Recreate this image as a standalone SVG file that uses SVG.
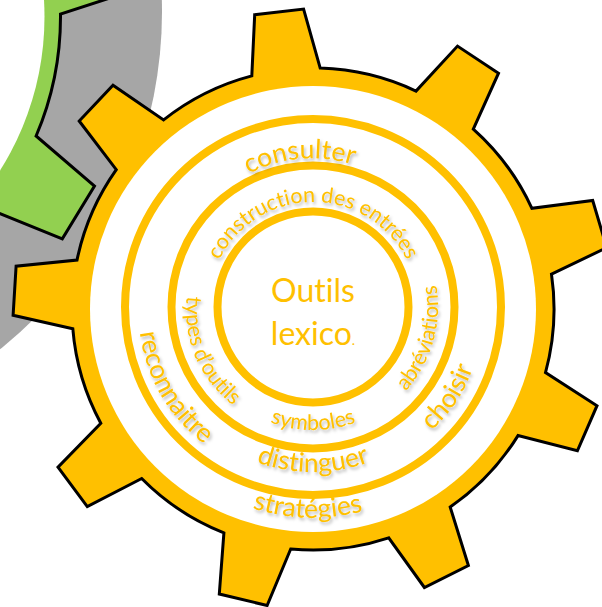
<svg xmlns="http://www.w3.org/2000/svg" width="602" height="607" viewBox="0 0 602 607">
<defs>
<style>
.gear{stroke:#000;stroke-width:3;stroke-linejoin:miter}
.ring{fill:none;stroke:#FFC000;stroke-width:8}
.lbl{font-family:Lato,"Open Sans",sans-serif;fill:#FFC000;font-variant-ligatures:none}
.big{font-size:26.5px}
.small{font-size:21.5px}
.shadow{filter:url(#sh)}
</style>
<filter id="sh" x="-20%" y="-20%" width="140%" height="140%">
<feDropShadow dx="1.5" dy="2.5" stdDeviation="1.6" flood-color="#000" flood-opacity="0.28"/>
</filter>
<path id="p-consulter" d="M326.0,455.4 A149,149 0 0 1 300.0,158.6 A149,149 0 0 1 326.0,455.4"/>
<path id="p-construction" d="M313,412 A105,105 0 0 1 313,202 A105,105 0 0 1 313,412"/>
<path id="p-reconnaitre" d="M465.4,219 A176,176 0 0 0 160.6,395 A176,176 0 0 0 465.4,219"/>
<path id="p-types" d="M430.8,257 A128,128 0 0 0 195.2,357 A128,128 0 0 0 430.8,257"/>
<path id="p-choisir" d="M169.6,212.1 A172,172 0 0 0 456.4,401.9 A172,172 0 0 0 169.6,212.1"/>
<path id="p-abrev" d="M192.8,272.5 A125,125 0 0 0 433.2,341.5 A125,125 0 0 0 192.8,272.5"/>
<path id="p-symboles" d="M313,184 A123,123 0 0 0 313,430 A123,123 0 0 0 313,184"/>
<path id="p-distinguer" d="M313,142 A165,165 0 0 0 313,472 A165,165 0 0 0 313,142"/>
<path id="p-strategies" d="M318.5,96.1 A211,211 0 0 0 307.5,517.9 A211,211 0 0 0 318.5,96.1"/>
</defs>
<rect width="602" height="607" fill="#fff"/>
<g id="gray-gear">
<circle cx="-270" cy="12" r="432" fill="#A6A6A6"/>
</g>
<g id="green-gear">
<path class="gear" fill="#92D050" d="M47.4,-71.7 L124.2,-70.9 L133.6,-9.7 L60.5,14.1 A304,304 0 0 1 36.1,136 L94.5,186 L62.3,238.9 L-8.9,210.1 L-100,300 L-300,300 L-300,-100 L47.4,-100 Z"/>
<circle cx="-243.5" cy="16.7" r="288" fill="#fff"/>
</g>
<g id="yellow-gear">
<path class="gear" fill="#FFC000" d="M251.8,75.9 L254.7,14.7 L303.6,9.1 L320.2,68.1 A241,241 0 0 1 416,91.1 L457.5,46.1 L498.5,73.2 L473.3,129.1 A241,241 0 0 1 531.9,208.3 L592.7,200.5 L606.7,247.6 L551.5,274.2 A241,241 0 0 1 545.5,372.6 L597,405.7 L577.4,450.8 L518,435.6 A241,241 0 0 1 450.2,507.1 L468.4,565.6 L424.4,587.5 L388.7,537.8 A241,241 0 0 1 290.7,549 L267.1,605.5 L219.3,594 L223.9,532.9 A241,241 0 0 1 141.7,478.5 L87.3,506.6 L58,467.1 L100.8,423.3 A241,241 0 0 1 72.8,328.7 L13.1,315.3 L16.1,266.2 L77,260.1 A241,241 0 0 1 116.3,169.7 L79.2,121 L113,85.3 L163.6,119.9 A241,241 0 0 1 251.8,75.9 Z"/>
<circle cx="313" cy="309" r="223" fill="#fff"/>
</g>
<g id="rings">
<circle class="ring" cx="313" cy="307" r="188"/>
<circle class="ring" cx="313" cy="307" r="141.5"/>
<circle class="ring" cx="313" cy="307" r="95.5"/>
</g>
<g id="labels" class="shadow">
<g id="consulter"><text class="lbl big"><textPath href="#p-consulter" startOffset="50%" text-anchor="middle">consulter</textPath></text></g>
<g id="construction"><text class="lbl small"><textPath href="#p-construction" startOffset="50%" text-anchor="middle">construction des entrées</textPath></text></g>
<g id="reconnaitre"><text class="lbl big"><textPath href="#p-reconnaitre" startOffset="50%" text-anchor="middle">reconnaitre</textPath></text></g>
<g id="types"><text class="lbl small"><textPath href="#p-types" startOffset="50%" text-anchor="middle">types d’outils</textPath></text></g>
<g id="choisir"><text class="lbl big"><textPath href="#p-choisir" startOffset="50%" text-anchor="middle">choisir</textPath></text></g>
<g id="abreviations"><text class="lbl small"><textPath href="#p-abrev" startOffset="50%" text-anchor="middle">abréviations</textPath></text></g>
<g id="symboles"><text class="lbl small"><textPath href="#p-symboles" startOffset="50%" text-anchor="middle">symboles</textPath></text></g>
<g id="distinguer"><text class="lbl big"><textPath href="#p-distinguer" startOffset="50%" text-anchor="middle">distinguer</textPath></text></g>
<g id="strategies"><text class="lbl big"><textPath href="#p-strategies" startOffset="50%" text-anchor="middle">stratégies</textPath></text></g>
</g>
<g id="center">
<text class="lbl" font-size="32" x="313" y="302" text-anchor="middle">Outils</text>
<text class="lbl" font-size="32" x="313" y="345" text-anchor="middle">lexico<tspan font-size="14">.</tspan></text>
</g>
</svg>
